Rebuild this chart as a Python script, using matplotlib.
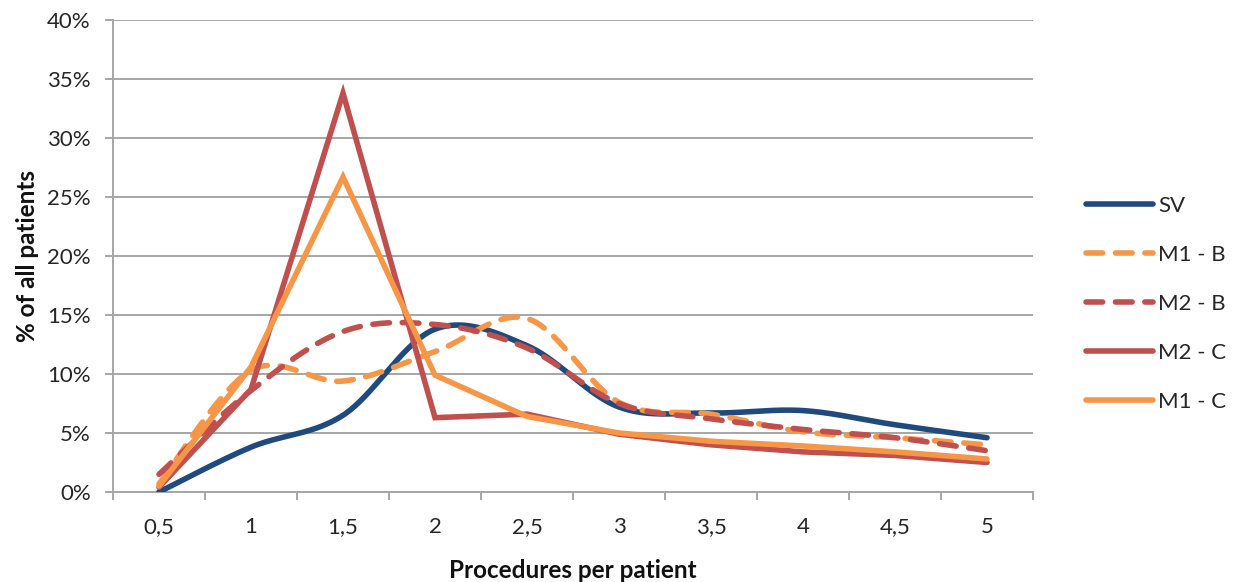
import numpy as np
import matplotlib
matplotlib.use("Agg")
import matplotlib.pyplot as plt
from matplotlib.lines import Line2D

plt.rcParams['font.family'] = ['Lato', 'DejaVu Sans']

categories = ["0,5", "1", "1,5", "2", "2,5", "3", "3,5", "4", "4,5", "5"]

sv   = [0.0, 3.8, 6.5, 13.8, 12.4, 7.2, 6.7, 6.9, 5.7, 4.6]
m1_b = [0.7, 10.3, 9.4, 11.9, 14.7, 7.6, 6.6, 5.1, 4.6, 4.0]
m2_b = [1.5, 8.6, 13.6, 14.2, 12.2, 7.5, 6.2, 5.3, 4.6, 3.5]
m2_c = [0.4, 8.7, 33.8, 6.3, 6.6, 4.9, 4.0, 3.4, 3.1, 2.5]
m1_c = [0.5, 10.6, 26.7, 9.9, 6.4, 5.0, 4.3, 3.9, 3.4, 2.8]

y_ticks = [0, 5, 10, 15, 20, 25, 30, 35, 40]

BLUE = "#1F4A7E"
ORANGE = "#F79646"
RED = "#C0504D"
GRID = "#A6A6A6"


def smooth(xs, ys, n=40):
    """Cubic Bezier smoothing through every point (spreadsheet-style)."""
    pts = np.column_stack([xs, ys]).astype(float)
    ext = np.vstack([pts[0], pts, pts[-1]])
    out = []
    for i in range(len(pts) - 1):
        p0, p1, p2, p3 = ext[i], ext[i + 1], ext[i + 2], ext[i + 3]
        c1 = p1 + (p2 - p0) / 6.0
        c2 = p2 - (p3 - p1) / 6.0
        t = np.linspace(0, 1, n)[:, None]
        seg = ((1 - t) ** 3) * p1 + 3 * ((1 - t) ** 2) * t * c1 \
            + 3 * (1 - t) * t ** 2 * c2 + t ** 3 * p2
        out.append(seg if i == 0 else seg[1:])
    arr = np.vstack(out)
    return arr[:, 0], arr[:, 1]


fig = plt.figure(figsize=(12.37, 5.82), dpi=100)
ax = fig.add_axes([113 / 1237, 1 - 492 / 582, (1033 - 113) / 1237, (492 - 20) / 582])

x = np.arange(len(categories))
lw = 4.0
dash = (0, (3.0, 2.3))

series = [
    ("SV", sv, BLUE, "-", True),
    ("M1 - B", m1_b, ORANGE, dash, True),
    ("M2 - B", m2_b, RED, dash, True),
    ("M2 - C", m2_c, RED, "-", False),
    ("M1 - C", m1_c, ORANGE, "-", False),
]

handles = []
for name, vals, col, ls, sm in series:
    if sm:
        xs, ys = smooth(x, vals)
    else:
        xs, ys = x, np.array(vals, dtype=float)
    ax.plot(xs, ys, color=col, lw=lw, linestyle=ls, solid_capstyle="round",
            dash_capstyle="round", solid_joinstyle="miter", zorder=3)
    handles.append(Line2D([], [], color=col, lw=lw, linestyle=ls,
                          solid_capstyle="round", dash_capstyle="round"))

ax.set_xlim(-0.5, len(categories) - 0.5)
ax.set_ylim(0, 40)
ax.set_yticks(y_ticks)
ax.set_yticklabels([f"{v}%" for v in y_ticks])
ax.set_xticks(x)
ax.set_xticklabels(categories)
ax.set_xticks(np.arange(-0.5, len(categories), 1.0), minor=True)

ax.grid(axis="y", color=GRID, lw=1.4, zorder=0)
ax.set_axisbelow(True)
for side in ["top", "right"]:
    ax.spines[side].set_visible(False)
for side in ["left", "bottom"]:
    ax.spines[side].set_color(GRID)
    ax.spines[side].set_linewidth(1.4)

ax.tick_params(axis="y", length=6, width=1.4, color=GRID, labelsize=16,
               labelcolor="#262626", pad=10)
ax.tick_params(axis="x", which="major", length=0, labelsize=16,
               labelcolor="#262626", pad=18)
ax.tick_params(axis="x", which="minor", length=6, width=1.4, color=GRID)

ax.set_ylabel("% of all patients", fontsize=17.5, fontweight="bold",
              color="#111111", labelpad=6)
ax.set_xlabel("Procedures per patient", fontsize=17.5, fontweight="bold",
              color="#111111", labelpad=16)

leg = fig.legend(handles, [s[0] for s in series], loc="center left",
                 bbox_to_anchor=(1066 / 1237, 1 - 304 / 582), frameon=False,
                 fontsize=16, handlelength=3.0, labelspacing=1.3,
                 handletextpad=0.25)
for t in leg.get_texts():
    t.set_color("#262626")

fig.savefig("out.png", dpi=100)
